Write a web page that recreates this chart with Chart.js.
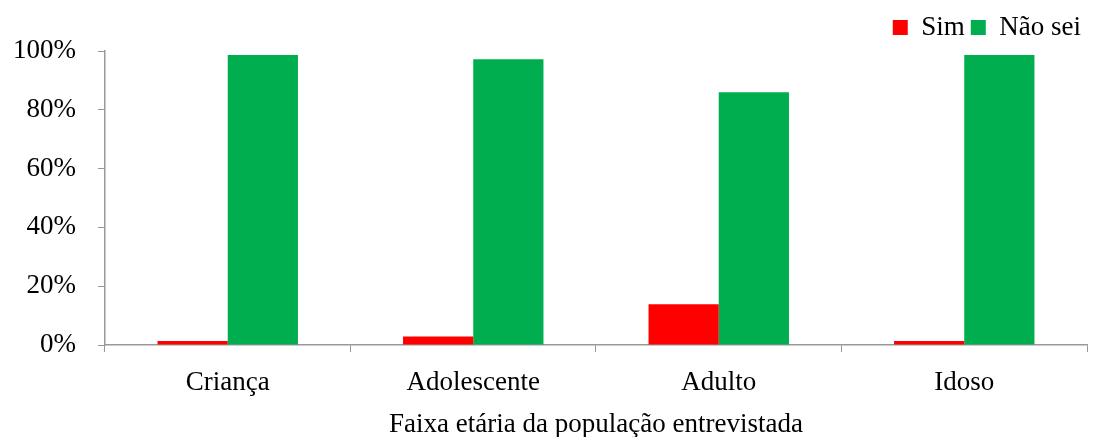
<!DOCTYPE html>
<html>
<head>
<meta charset="utf-8">
<script src="https://cdn.jsdelivr.net/npm/chart.js@4"></script>
<style>
  body { margin: 0; background: #fff; }
  #wrap { width: 1093px; height: 437px; }
</style>
</head>
<body>
<div id="wrap"><canvas id="myChart"></canvas></div>
<script>
const categories = ['Criança', 'Adolescente', 'Adulto', 'Idoso'];
const simValues = [1.4, 2.9, 13.9, 1.4];
const naoSeiValues = [98.6, 97.2, 86.0, 98.6];
const yTicks = [0, 20, 40, 60, 80, 100];

Chart.defaults.font.family = '"Liberation Serif", "Times New Roman", serif';
Chart.defaults.color = '#000';

const ctx = document.getElementById('myChart');

const chart = new Chart(ctx, {
  type: 'bar',
  data: {
    labels: categories,
    datasets: [{
      label: 'Sim',
      data: simValues,
      backgroundColor: '#ff0000',
      borderWidth: 0
    }, {
      label: 'Não sei',
      data: naoSeiValues,
      backgroundColor: '#00ad4f',
      borderWidth: 0
    }]
  },
  options: {
    responsive: true,
    maintainAspectRatio: false,
    animation: false,
    layout: { padding: { left: -9, right: 6, top: 8, bottom: -1 } },
    datasets: {
      bar: { categoryPercentage: 0.572, barPercentage: 1 }
    },
    plugins: {
      tooltip: { enabled: false },
      legend: {
        position: 'top',
        align: 'end',
        labels: {
          font: { size: 27 },
          boxWidth: 15,
          boxHeight: 15,
          padding: 6
        }
      }
    },
    scales: {
      x: {
        grid: {
          offset: true,
          drawOnChartArea: false,
          drawTicks: true,
          tickLength: 7,
          color: '#999'
        },
        border: { color: '#999', width: 1.5 },
        ticks: { font: { size: 27, lineHeight: 1 }, padding: 17 },
        title: {
          display: true,
          text: 'Faixa etária da população entrevistada',
          font: { size: 27, lineHeight: 1 },
          padding: { top: -2, bottom: 0 }
        }
      },
      y: {
        min: 0,
        max: 100,
        afterBuildTicks: (axis) => {
          axis.ticks = yTicks.map(v => ({ value: v }));
        },
        grid: {
          drawOnChartArea: false,
          drawTicks: true,
          tickLength: 7,
          color: '#999'
        },
        border: { color: '#999', width: 1.5 },
        ticks: {
          font: { size: 27 },
          padding: 22,
          callback: (v) => v + '%'
        }
      }
    }
  }
});
</script>
</body>
</html>
